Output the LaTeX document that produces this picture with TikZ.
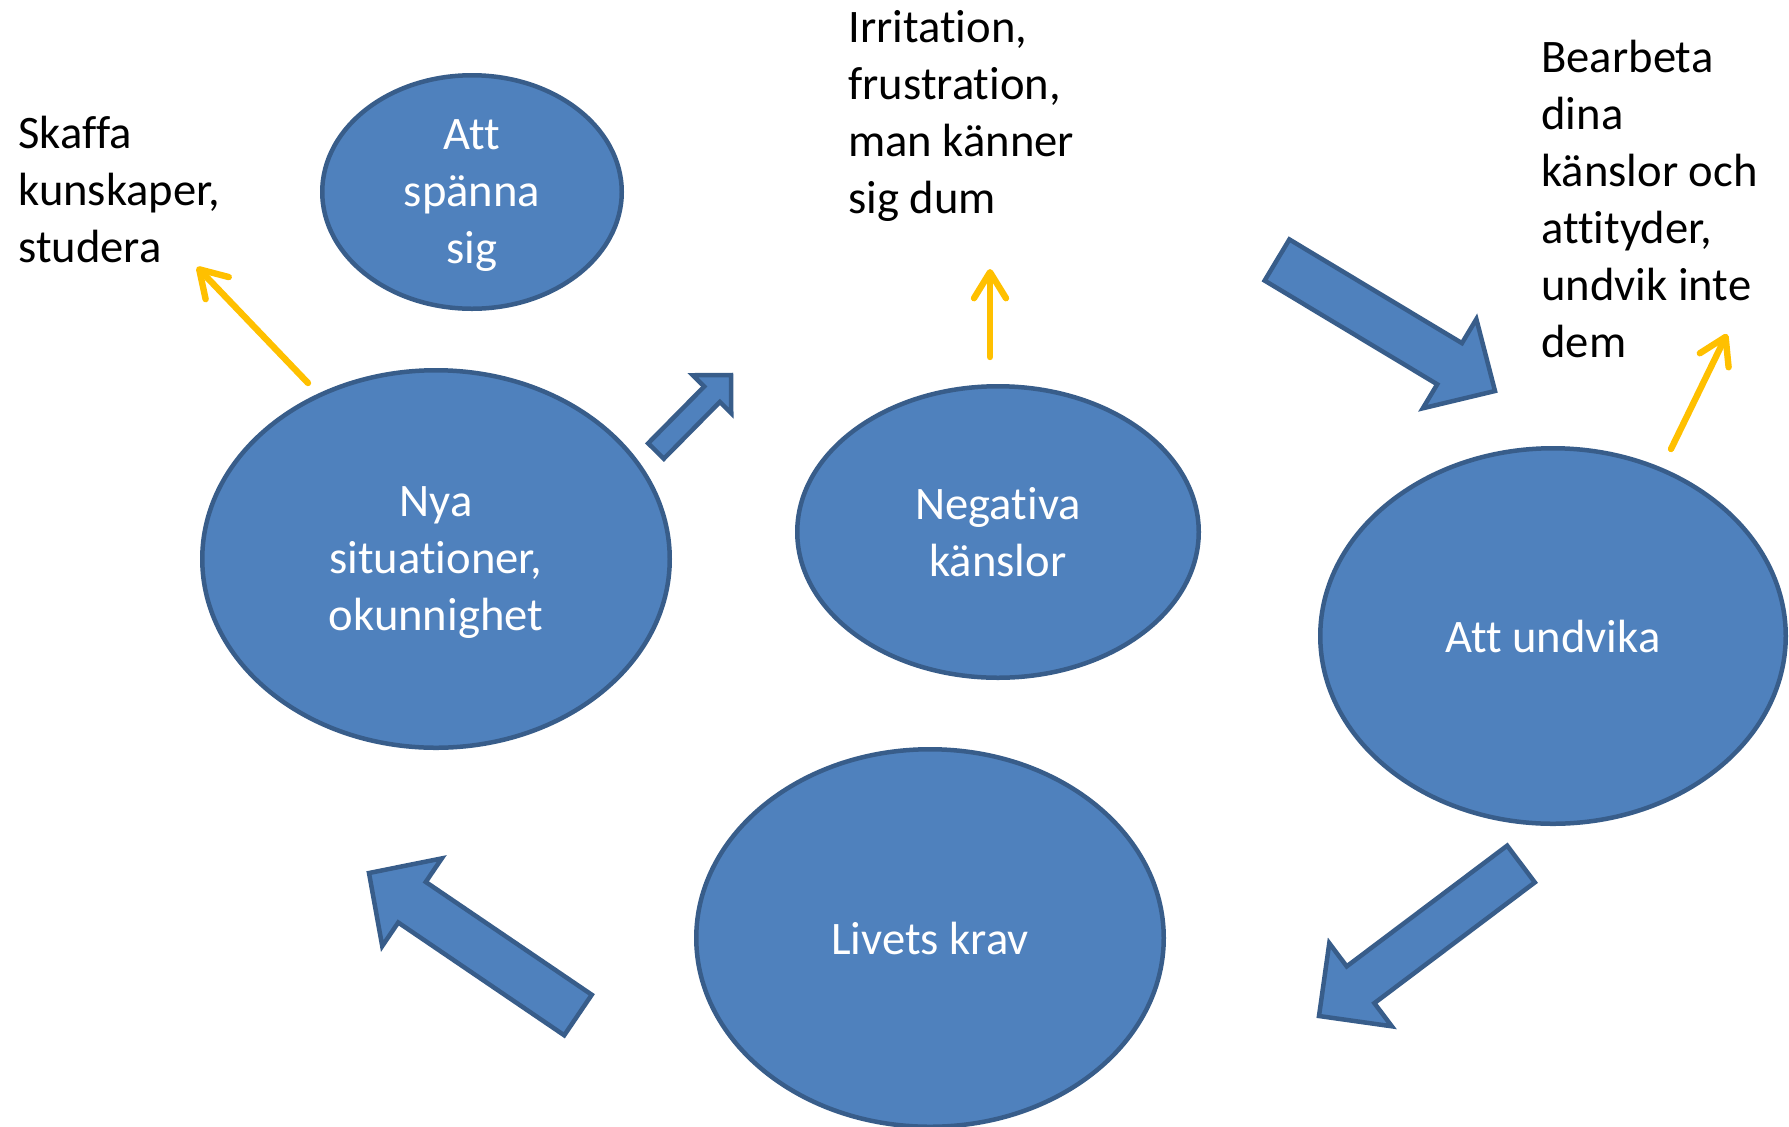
\documentclass[tikz,border=0pt]{standalone}
\usepackage{fontspec}
\setmainfont{Carlito}[Ligatures=NoCommon]
\usetikzlibrary{calc,shapes.geometric,arrows.meta}
\definecolor{bfill}{HTML}{4F81BD}
\definecolor{bline}{HTML}{385D8A}
\definecolor{ylw}{HTML}{FFC000}
\newcommand{\blockarr}[5]{% #1 tail, #2 tip, #3 shaft half, #4 head half, #5 head length
  \path ($(#2)!#5!(#1)$) coordinate (bh);
  \draw[blockarrow] ($(#1)!#3!90:(#2)$) -- ($(bh)!#3!90:(#2)$) -- ($(bh)!#4!90:(#2)$) -- (#2)
    -- ($(bh)!#4!-90:(#2)$) -- ($(bh)!#3!-90:(#2)$) -- ($(#1)!#3!-90:(#2)$) -- cycle;}
\begin{document}
\begin{tikzpicture}[x=0.5pt,y=-0.5pt,
  txt/.style={font=\fontsize{23.3}{28.5}\selectfont},
  bubble/.style={ellipse, draw=bline, fill=bfill, line width=2.25pt, text=white,
    align=center, txt, inner sep=0pt},
  note/.style={anchor=base west, align=left, txt, inner sep=0pt},
  hint/.style={draw=ylw, line width=3.2pt, line cap=round,
    -{Straight Barb[length=13pt,width=16pt,round]}},
  blockarrow/.style={draw=bline, fill=bfill, line width=2.25pt, line join=miter}]
\useasboundingbox (0,0) rectangle (1789,1126);

% ellipses
\node[bubble, minimum width=149.75pt, minimum height=116.75pt] (spanna) at (472,192) {Att\\spänna\\\smash{sig}};
\node[bubble, minimum width=233.75pt, minimum height=188.75pt] (nya) at (436,559) {Nya\\situationer,\\\smash{okunnighet}};
\node[bubble, minimum width=200.75pt, minimum height=145.75pt] (neg) at (998,532) {Negativa\\känslor};
\node[bubble, minimum width=232.75pt, minimum height=187.75pt] (undv) at (1553,636) {Att undvika};
\node[bubble, minimum width=233.75pt, minimum height=188.75pt] (krav) at (930,938) {Livets krav};

% notes (anchored at the baseline of the last line)
\node[note] (skaffa) at (18,262) {Skaffa\\kunskaper,\\studera};
\node[note] (irr) at (848,213) {Irritation,\\frustration,\\man känner\\sig dum};
\node[note] (bearb) at (1541,357) {Bearbeta\\dina\\känslor och\\attityder,\\undvik inte\\dem};

% yellow arrows
\coordinate (y1s) at (308,383); \coordinate (y1e) at (197,267);
\coordinate (y2s) at (990,357); \coordinate (y2e) at (990,269);
\coordinate (y3s) at (1671,449); \coordinate (y3e) at (1727,334);
\draw[hint] (y1s) -- (y1e);
\draw[hint] (y2s) -- (y2e);
\draw[hint] (y3s) -- (y3e);

% block arrows
\coordinate (a1t) at (656,451); \coordinate (a1h) at (731,375);
\coordinate (a2t) at (1277,260); \coordinate (a2h) at (1495,391);
\coordinate (a3t) at (1521,864); \coordinate (a3h) at (1319,1016);
\coordinate (a4t) at (578,1015); \coordinate (a4h) at (369,873);
\blockarr{a1t}{a1h}{5.5pt}{13.5pt}{13.5pt}
\blockarr{a2t}{a2h}{12pt}{26pt}{26.5pt}
\blockarr{a3t}{a3h}{11.5pt}{26pt}{26pt}
\blockarr{a4t}{a4h}{12.25pt}{26.5pt}{26pt}
\end{tikzpicture}
\end{document}
